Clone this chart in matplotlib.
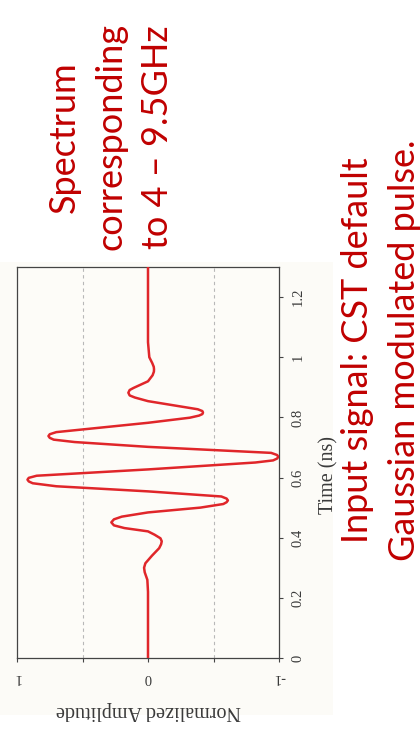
import matplotlib
matplotlib.use("Agg")
import matplotlib.pyplot as plt
from matplotlib.patches import Rectangle

# Gaussian modulated input pulse (time in ns, normalized amplitude)
time_ns = [0.0, 0.22, 0.26, 0.285, 0.30, 0.315, 0.34, 0.365, 0.378, 0.388,
           0.398, 0.41, 0.421, 0.432, 0.441, 0.451, 0.461, 0.47, 0.484, 0.50,
           0.512, 0.518, 0.524, 0.530, 0.537, 0.554, 0.571, 0.581, 0.587, 0.593,
           0.599, 0.606, 0.627, 0.650, 0.657, 0.663, 0.669, 0.675, 0.682, 0.702,
           0.718, 0.726, 0.732, 0.738, 0.744, 0.751, 0.782, 0.799, 0.806, 0.811,
           0.816, 0.821, 0.827, 0.854, 0.866, 0.873, 0.882, 0.891, 0.898, 0.92,
           0.940, 0.952, 0.96, 0.968, 0.98, 1.0, 1.05, 1.3]
amplitude = [0.0, 0.0, 0.005, 0.025, 0.03, 0.02, -0.03, -0.085, -0.10, -0.105,
             -0.095, -0.05, 0.0, 0.18, 0.26, 0.28, 0.26, 0.20, 0.0, -0.40,
             -0.575, -0.60, -0.61, -0.60, -0.56, 0.0, 0.70, 0.88, 0.91, 0.92,
             0.91, 0.85, 0.0, -0.82, -0.955, -0.985, -0.995, -0.985, -0.94, 0.0,
             0.56, 0.72, 0.75, 0.76, 0.75, 0.70, 0.0, -0.32, -0.39, -0.415,
             -0.42, -0.415, -0.38, 0.0, 0.10, 0.14, 0.15, 0.14, 0.11, 0.0,
             -0.035, -0.045, -0.046, -0.044, -0.033, -0.01, 0.0, 0.0]

time_ticks = [0, 0.2, 0.4, 0.6, 0.8, 1.0, 1.2]
time_ticklabels = ["0", "0.2", "0.4", "0.6", "0.8", "1", "1.2"]
amp_ticks = [1, 0.5, 0, -0.5, -1]
amp_ticklabels = ["1", "", "0", "", "-1"]

note_top = "Spectrum\ncorresponding\nto 4 \u2013 9.5GHz"
note_side = "Input signal: CST default\nGaussian modulated pulse."

W, H = 420, 734
fig = plt.figure(figsize=(W / 100, H / 100), dpi=100)
fig.patch.set_facecolor("white")

# pasted-figure backdrop
fig.add_artist(Rectangle((0, 1 - 715 / H), 333 / W, (715 - 262) / H,
                         transform=fig.transFigure, facecolor="#fcfbf7",
                         edgecolor="none", zorder=0))

ax = fig.add_axes([17 / W, 1 - 658 / H, 262 / W, 391 / H])
ax.set_facecolor("#fdfcf8")

ax.plot(amplitude, time_ns, color="#e0262a", lw=1.8, zorder=3,
        solid_joinstyle="round")

ax.set_xlim(1, -1)
ax.set_ylim(0, 1.3)

for g in (0.5, -0.5):
    ax.axvline(g, color="#b8b8b8", lw=0.8, ls=(0, (3, 3)), zorder=1)

serif = "Liberation Serif"
txt_col = "#3a3a3a"

ax.set_xticks(amp_ticks)
ax.set_xticklabels(amp_ticklabels, rotation=180, family=serif,
                   fontsize=10.5, color=txt_col)
ax.yaxis.tick_right()
ax.set_yticks(time_ticks)
ax.set_yticklabels(time_ticklabels, rotation=90, family=serif,
                   fontsize=10.5, color=txt_col, va="center")
ax.tick_params(axis="both", direction="out", length=3, width=0.8,
               color="#444444", pad=6)

for s in ax.spines.values():
    s.set_color("#444444")
    s.set_linewidth(0.9)

ax.text(0.5, -0.133, "Normalized Amplitude", transform=ax.transAxes,
        rotation=180, ha="center", va="center", family=serif,
        fontsize=14.5, color=txt_col)
ax.text(1.19, 0.468, "Time (ns)", transform=ax.transAxes,
        rotation=90, ha="center", va="center", family=serif,
        fontsize=14.5, color=txt_col)

red = "#c00000"
fig.text(111 / W, 1 - 137 / H, note_top, rotation=90, ha="center",
         va="center", multialignment="center", family="Lato",
         fontsize=26, color=red, linespacing=1.5)
fig.text(381 / W, 1 - 350 / H, note_side, rotation=90, ha="center",
         va="center", multialignment="center", family="Lato",
         fontsize=26, color=red, linespacing=1.5)

fig.savefig("out.png", dpi=100)
